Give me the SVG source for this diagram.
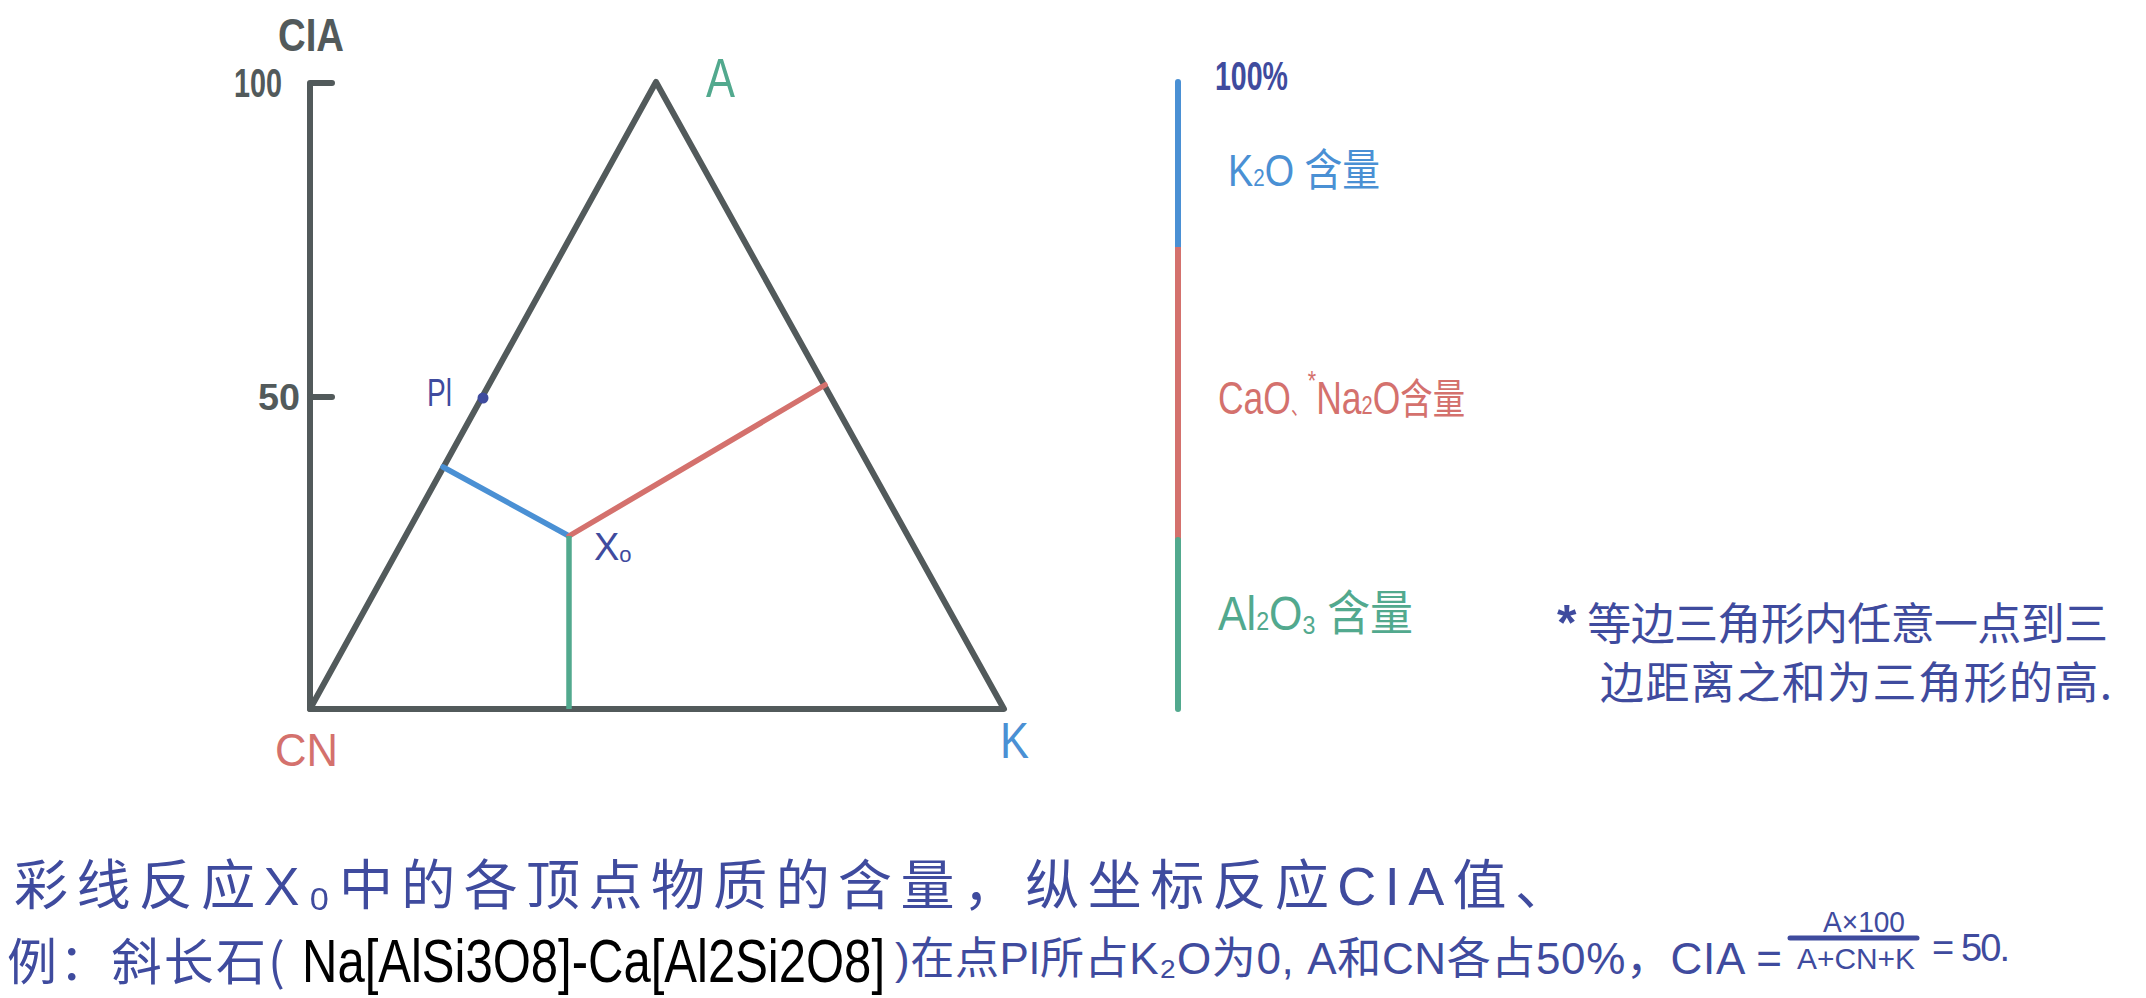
<svg xmlns="http://www.w3.org/2000/svg" width="2146" height="998" viewBox="0 0 2146 998">
<style>
.ln{stroke:#525a5b;stroke-width:6;fill:none;stroke-linecap:round;stroke-linejoin:round}
.gray{fill:#525a5b;font-family:'Liberation Sans','Noto Sans CJK SC',sans-serif;font-weight:bold}
.dk{fill:#3f4b9e;font-family:'Liberation Sans','Noto Sans CJK SC',sans-serif}
.cjk{font-family:'Noto Sans CJK SC',sans-serif}
.blue{fill:#4a90d4}
.red{fill:#d4716d}
.green{fill:#52a98e}
.lat{font-family:'Liberation Sans','Noto Sans CJK SC',sans-serif}
</style>
<rect width="2146" height="998" fill="#ffffff"/>

<g id="axis">
  <path class="ln" d="M332 83 H310 V709"/>
  <path class="ln" d="M310 397 H332"/>
  <text class="gray" x="278" y="51" font-size="46" textLength="66" lengthAdjust="spacingAndGlyphs">CIA</text>
  <text class="gray" x="234" y="97" font-size="40" textLength="48" lengthAdjust="spacingAndGlyphs">100</text>
  <text class="gray" x="258" y="410" font-size="36" textLength="42" lengthAdjust="spacingAndGlyphs">50</text>
</g>

<g id="triangle">
  <path class="ln" d="M310 709 L656 82 L1004 709 Z"/>
  <text class="lat green" x="706" y="97" font-size="56" textLength="29" lengthAdjust="spacingAndGlyphs">A</text>
  <text class="lat red" x="275" y="766" font-size="46" textLength="63" lengthAdjust="spacingAndGlyphs">CN</text>
  <text class="lat blue" x="1000" y="758" font-size="50" textLength="29" lengthAdjust="spacingAndGlyphs">K</text>
</g>

<g id="point-Pl">
  <circle cx="483" cy="398" r="5.5" fill="#3f4b9e"/>
  <text class="dk" x="427" y="406" font-size="38" textLength="25" lengthAdjust="spacingAndGlyphs">Pl</text>
</g>

<g id="point-X0">
  <text class="dk" x="594" y="560" font-size="38">X<tspan font-size="22" dy="2">o</tspan></text>
</g>

<g id="connectors">
  <path d="M569 536 L443 467" stroke="#4a90d4" stroke-width="5.5" stroke-linecap="round" fill="none"/>
  <path d="M569 536 L825 385" stroke="#d4716d" stroke-width="5.5" stroke-linecap="round" fill="none"/>
  <path d="M569 536 V709" stroke="#52a98e" stroke-width="5.5" fill="none"/>
</g>

<g id="scale-bar">
  <path d="M1178 82 V247" stroke="#4a90d4" stroke-width="6" stroke-linecap="round" fill="none"/>
  <path d="M1178 247 V540" stroke="#d4716d" stroke-width="6" fill="none"/>
  <path d="M1178 540 V709" stroke="#52a98e" stroke-width="6" stroke-linecap="round" fill="none"/>
  <text class="dk" x="1215" y="90" font-size="40" font-weight="bold" textLength="73" lengthAdjust="spacingAndGlyphs">100%</text>
</g>

<g id="label-K2O">
  <text class="lat blue" x="1228" y="186" font-size="44" textLength="152" lengthAdjust="spacingAndGlyphs">K<tspan font-size="24">2</tspan>O <tspan class="cjk">含量</tspan></text>
</g>

<g id="label-CaO-Na2O">
  <text class="lat red" x="1218" y="414" font-size="46" textLength="247" lengthAdjust="spacingAndGlyphs">CaO<tspan font-size="22">、</tspan><tspan font-size="28" dy="-24">*</tspan><tspan dy="24">Na</tspan><tspan font-size="26">2</tspan>O<tspan class="cjk" font-size="42">含量</tspan></text>
</g>

<g id="label-Al2O3">
  <text class="lat green" x="1218" y="630" font-size="48" textLength="195" lengthAdjust="spacingAndGlyphs">Al<tspan font-size="26">2</tspan>O<tspan font-size="26" dy="4">3</tspan> <tspan class="cjk" dy="-4">含量</tspan></text>
</g>

<g id="footnote">
  <text class="dk" x="1557" y="640" font-size="44" textLength="551" lengthAdjust="spacing"><tspan font-weight="bold" font-size="50">*</tspan> <tspan class="cjk">等边三角形内任意一点到三</tspan></text>
  <text class="dk cjk" x="1600" y="699" font-size="44" textLength="512" lengthAdjust="spacing">边距离之和为三角形的高.</text>
</g>

<g id="caption">
  <text class="dk" x="14" y="905" font-size="54" textLength="1555" lengthAdjust="spacing">彩线反应X₀中的各顶点物质的含量，纵坐标反应CIA值、</text>
  <text class="dk cjk" x="7" y="980" font-size="50" textLength="278" lengthAdjust="spacing">例：斜长石(</text>
  <text x="302" y="982" font-size="62" fill="#000000" font-family="'Liberation Sans',sans-serif" textLength="583" lengthAdjust="spacingAndGlyphs">Na[AlSi3O8]-Ca[Al2Si2O8]</text>
  <text class="dk" x="895" y="974" font-size="44" textLength="887" lengthAdjust="spacing">)在点Pl所占K₂O为0, A和CN各占50%，CIA =</text>
  <text class="dk" x="1823" y="932" font-size="30" textLength="82" lengthAdjust="spacingAndGlyphs">A×100</text>
  <path d="M1790 938 H1917" stroke="#3f4b9e" stroke-width="5" stroke-linecap="round"/>
  <text class="dk" x="1797" y="969" font-size="30" textLength="118" lengthAdjust="spacingAndGlyphs">A+CN+K</text>
  <text class="dk" x="1932" y="961" font-size="38" textLength="78" lengthAdjust="spacing">= 50.</text>
</g>
</svg>
